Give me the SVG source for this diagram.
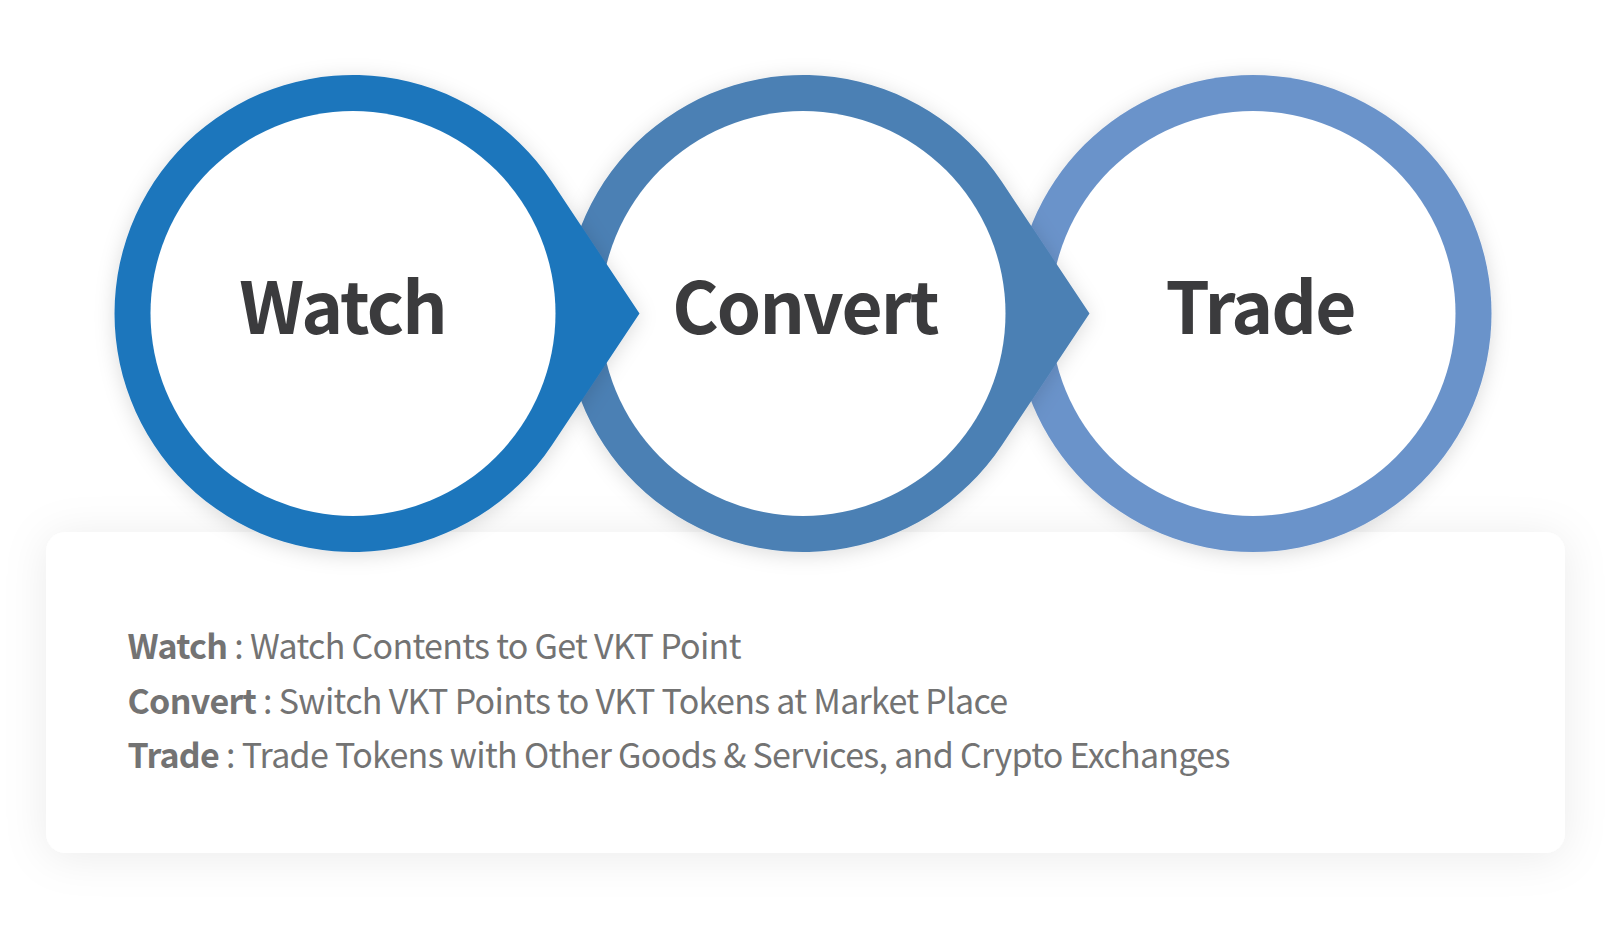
<svg xmlns="http://www.w3.org/2000/svg" width="1612" height="930" viewBox="0 0 1612 930">
  <style>
    .title { font-family: "Noto Sans CJK SC", "Noto Sans", sans-serif; font-weight: 700; font-size: 71px; letter-spacing: -1.9px; fill: #3b3b3d; text-anchor: middle; }
    .desc { font-family: "Noto Sans CJK SC", "Noto Sans", sans-serif; font-size: 34px; letter-spacing: -0.7px; fill: #737373; }
    .desc .b { font-weight: 700; }
    .inner { fill: #ffffff; }
  </style>
  <defs>
    <filter id="panelShadow" x="-10%" y="-30%" width="120%" height="160%">
      <feDropShadow dx="0" dy="4" stdDeviation="22" flood-color="#000" flood-opacity="0.08"/>
    </filter>
    <filter id="ringShadow" x="-20%" y="-20%" width="140%" height="140%">
      <feDropShadow dx="0" dy="3" stdDeviation="10" flood-color="#000" flood-opacity="0.14"/>
    </filter>
  </defs>
  <rect width="1612" height="930" fill="#ffffff"/>

  <g id="panel">
    <rect x="46" y="532" width="1519" height="321" rx="20" fill="#ffffff" filter="url(#panelShadow)"/>
    <text class="desc" x="127.5" y="659"><tspan class="b">Watch</tspan> : Watch Contents to Get VKT Point</text>
    <text class="desc" x="127.5" y="713.5"><tspan class="b">Convert</tspan> : Switch VKT Points to VKT Tokens at Market Place</text>
    <text class="desc" x="127.5" y="768"><tspan class="b">Trade</tspan> : Trade Tokens with Other Goods &amp; Services, and Crypto Exchanges</text>
  </g>

  <g id="node-trade">
    <circle cx="1253" cy="313.5" r="238.5" fill="#6b93ca" filter="url(#ringShadow)"/>
    <circle class="inner" cx="1253" cy="313.5" r="202.5"/>
    <text class="title" x="1260" y="334">Trade</text>
  </g>

  <g id="node-convert">
    <path d="M 1089.5 313.5 L 1001.54 181.35 A 238.5 238.5 0 1 0 1001.54 445.65 Z" fill="#4c80b4" filter="url(#ringShadow)"/>
    <circle class="inner" cx="803" cy="313.5" r="202.5"/>
    <text class="title" x="805" y="334">Convert</text>
  </g>

  <g id="node-watch">
    <path d="M 639.5 313.5 L 551.54 181.35 A 238.5 238.5 0 1 0 551.54 445.65 Z" fill="#1f76bc" filter="url(#ringShadow)"/>
    <circle class="inner" cx="353" cy="313.5" r="202.5"/>
    <text class="title" x="342.5" y="334">Watch</text>
  </g>

  <g id="connectors"/>
</svg>
